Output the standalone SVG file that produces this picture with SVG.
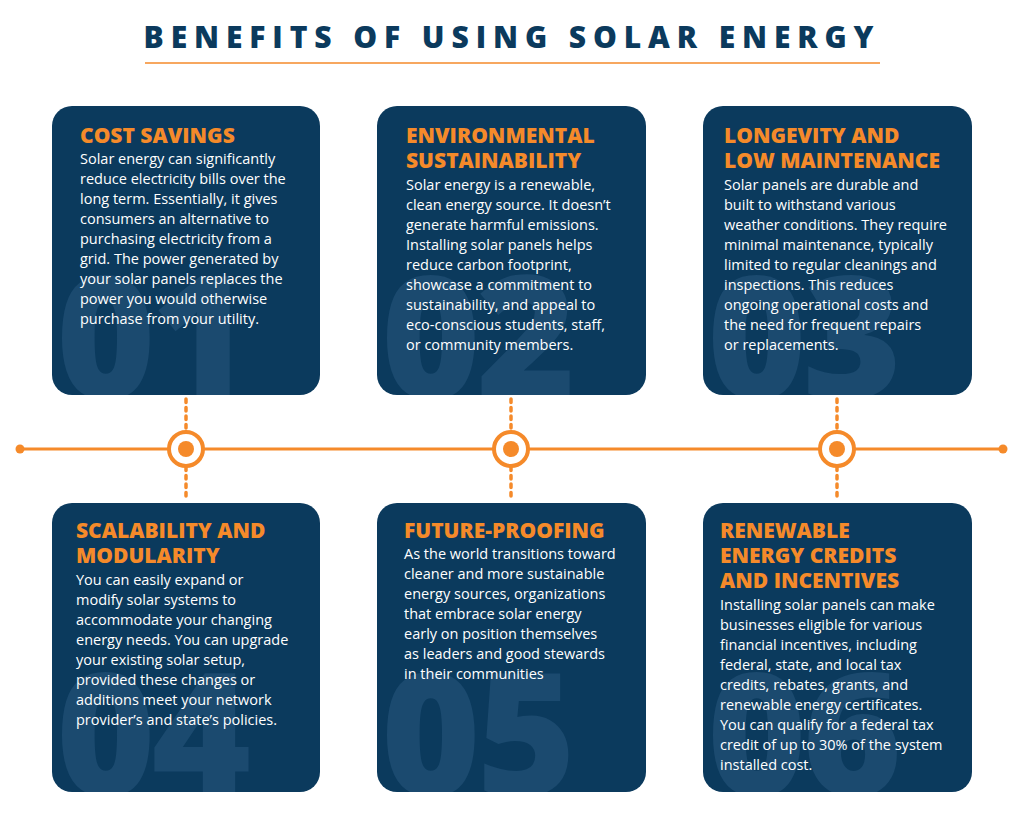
<svg xmlns="http://www.w3.org/2000/svg" width="1024" height="814" viewBox="0 0 1024 814">
<style>
.card{fill:#0b3a5d}
.num{font-family:"Open Sans",sans-serif;font-weight:800;font-size:170px;fill:#1b4a6f;letter-spacing:-4px}
.h{font-family:"Open Sans",sans-serif;font-weight:800;font-size:21px;fill:#f58a2a}
.b{font-family:"Open Sans",sans-serif;font-size:14.5px;fill:#ffffff}
.dot{stroke:#f58a2a;stroke-width:3.5;stroke-dasharray:3.5 5;stroke-linecap:round}
</style>
<defs>
<clipPath id="c1"><rect x="52" y="106" width="268" height="289" rx="20"/></clipPath>
<clipPath id="c2"><rect x="377" y="106" width="269" height="289" rx="20"/></clipPath>
<clipPath id="c3"><rect x="703" y="106" width="269" height="289" rx="20"/></clipPath>
<clipPath id="c4"><rect x="52" y="503" width="268" height="289" rx="20"/></clipPath>
<clipPath id="c5"><rect x="377" y="503" width="269" height="289" rx="20"/></clipPath>
<clipPath id="c6"><rect x="703" y="503" width="269" height="289" rx="20"/></clipPath>
</defs>
<rect width="1024" height="814" fill="#ffffff"/>
<text x="512" y="48" text-anchor="middle" font-family="Open Sans,sans-serif" font-weight="800" font-size="30" letter-spacing="6.9" fill="#0b3a5d">BENEFITS OF USING SOLAR ENERGY</text>
<line x1="145" y1="63" x2="880" y2="63" stroke="#f58a2a" stroke-width="1.5"/>
<g id="connectors">
<line x1="20" y1="449" x2="1003" y2="449" stroke="#f58a2a" stroke-width="3"/>
<circle cx="20" cy="449" r="4.5" fill="#f58a2a"/>
<circle cx="1003" cy="449" r="4.5" fill="#f58a2a"/>
<line class="dot" x1="186" y1="399" x2="186" y2="500"/>
<line class="dot" x1="511" y1="399" x2="511" y2="500"/>
<line class="dot" x1="837" y1="399" x2="837" y2="500"/>
<g fill="#ffffff" stroke="#f58a2a" stroke-width="4">
<circle cx="186" cy="449" r="17"/><circle cx="511" cy="449" r="17"/><circle cx="837" cy="449" r="17"/>
</g>
<g fill="#f58a2a"><circle cx="186" cy="449" r="8"/><circle cx="511" cy="449" r="8"/><circle cx="837" cy="449" r="8"/></g>
</g>
<g id="n1">
<rect class="card" x="52" y="106" width="268" height="289" rx="20"/>
<text class="num" x="56" y="398" clip-path="url(#c1)">01</text>
<text class="h" x="80" y="143">COST SAVINGS</text>
<text class="b" x="80"><tspan x="80" y="164">Solar energy can significantly</tspan><tspan x="80" y="184">reduce electricity bills over the</tspan><tspan x="80" y="204">long term. Essentially, it gives</tspan><tspan x="80" y="224">consumers an alternative to</tspan><tspan x="80" y="244">purchasing electricity from a</tspan><tspan x="80" y="264">grid. The power generated by</tspan><tspan x="80" y="284">your solar panels replaces the</tspan><tspan x="80" y="304">power you would otherwise</tspan><tspan x="80" y="324">purchase from your utility.</tspan></text>
</g>
<g id="n2">
<rect class="card" x="377" y="106" width="269" height="289" rx="20"/>
<text class="num" x="381" y="398" clip-path="url(#c2)">02</text>
<text class="h"><tspan x="406" y="143">ENVIRONMENTAL</tspan><tspan x="406" y="168">SUSTAINABILITY</tspan></text>
<text class="b"><tspan x="406" y="190">Solar energy is a renewable,</tspan><tspan x="406" y="210">clean energy source. It doesn’t</tspan><tspan x="406" y="230">generate harmful emissions.</tspan><tspan x="406" y="250">Installing solar panels helps</tspan><tspan x="406" y="270">reduce carbon footprint,</tspan><tspan x="406" y="290">showcase a commitment to</tspan><tspan x="406" y="310">sustainability, and appeal to</tspan><tspan x="406" y="330">eco-conscious students, staff,</tspan><tspan x="406" y="350">or community members.</tspan></text>
</g>
<g id="n3">
<rect class="card" x="703" y="106" width="269" height="289" rx="20"/>
<text class="num" x="707" y="398" clip-path="url(#c3)">03</text>
<text class="h"><tspan x="724" y="143">LONGEVITY AND</tspan><tspan x="724" y="168">LOW MAINTENANCE</tspan></text>
<text class="b"><tspan x="724" y="190">Solar panels are durable and</tspan><tspan x="724" y="210">built to withstand various</tspan><tspan x="724" y="230">weather conditions. They require</tspan><tspan x="724" y="250">minimal maintenance, typically</tspan><tspan x="724" y="270">limited to regular cleanings and</tspan><tspan x="724" y="290">inspections. This reduces</tspan><tspan x="724" y="310">ongoing operational costs and</tspan><tspan x="724" y="330">the need for frequent repairs</tspan><tspan x="724" y="350">or replacements.</tspan></text>
</g>
<g id="n4">
<rect class="card" x="52" y="503" width="268" height="289" rx="20"/>
<text class="num" x="56" y="795" clip-path="url(#c4)">04</text>
<text class="h"><tspan x="76" y="538">SCALABILITY AND</tspan><tspan x="76" y="563">MODULARITY</tspan></text>
<text class="b"><tspan x="76" y="585">You can easily expand or</tspan><tspan x="76" y="605">modify solar systems to</tspan><tspan x="76" y="625">accommodate your changing</tspan><tspan x="76" y="645">energy needs. You can upgrade</tspan><tspan x="76" y="665">your existing solar setup,</tspan><tspan x="76" y="685">provided these changes or</tspan><tspan x="76" y="705">additions meet your network</tspan><tspan x="76" y="725">provider’s and state’s policies.</tspan></text>
</g>
<g id="n5">
<rect class="card" x="377" y="503" width="269" height="289" rx="20"/>
<text class="num" x="381" y="795" clip-path="url(#c5)">05</text>
<text class="h" x="404" y="538">FUTURE-PROOFING</text>
<text class="b"><tspan x="404" y="559">As the world transitions toward</tspan><tspan x="404" y="579">cleaner and more sustainable</tspan><tspan x="404" y="599">energy sources, organizations</tspan><tspan x="404" y="619">that embrace solar energy</tspan><tspan x="404" y="639">early on position themselves</tspan><tspan x="404" y="659">as leaders and good stewards</tspan><tspan x="404" y="679">in their communities</tspan></text>
</g>
<g id="n6">
<rect class="card" x="703" y="503" width="269" height="289" rx="20"/>
<text class="num" x="707" y="795" clip-path="url(#c6)">06</text>
<text class="h"><tspan x="720" y="538">RENEWABLE</tspan><tspan x="720" y="563">ENERGY CREDITS</tspan><tspan x="720" y="588">AND INCENTIVES</tspan></text>
<text class="b"><tspan x="720" y="610">Installing solar panels can make</tspan><tspan x="720" y="630">businesses eligible for various</tspan><tspan x="720" y="650">financial incentives, including</tspan><tspan x="720" y="670">federal, state, and local tax</tspan><tspan x="720" y="690">credits, rebates, grants, and</tspan><tspan x="720" y="710">renewable energy certificates.</tspan><tspan x="720" y="730">You can qualify for a federal tax</tspan><tspan x="720" y="750">credit of up to 30% of the system</tspan><tspan x="720" y="770">installed cost.</tspan></text>
</g>
</svg>
